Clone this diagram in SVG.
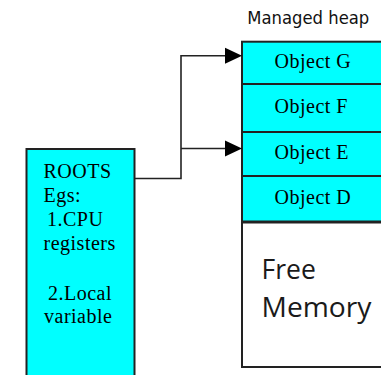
<svg xmlns="http://www.w3.org/2000/svg" width="381" height="375" viewBox="0 0 381 375">
<style>
.box{fill:#00ffff;stroke:#222;stroke-width:2}
.free{fill:#fff;stroke:#222;stroke-width:2}
.ser{font-family:"Liberation Serif","Times New Roman",serif;font-size:20px;letter-spacing:0.5px;fill:#000}
.conn{fill:none;stroke:#222;stroke-width:1.6}
.head{fill:#000}
</style>
<rect width="381" height="375" fill="#fff"/>
<text x="247.3" y="24" font-family="DejaVu Sans,Verdana,sans-serif" font-size="17" textLength="122" lengthAdjust="spacingAndGlyphs" fill="#111">Managed heap</text>
<g id="free-memory">
<rect class="free" x="242" y="222" width="150" height="145"/>
<text x="261.5" y="279" font-family="Open Sans,sans-serif" font-size="26.5" fill="#1a1a1a">Free</text>
<text x="261.5" y="316.7" font-family="Open Sans,sans-serif" font-size="26.5" textLength="110" lengthAdjust="spacingAndGlyphs" fill="#1a1a1a">Memory</text>
</g>
<g id="object-g">
<rect class="box" x="242" y="41.7" width="150" height="42.3"/>
<text class="ser" x="274.5" y="67.5">Object G</text>
</g>
<g id="object-f">
<rect class="box" x="242" y="84" width="150" height="48"/>
<text class="ser" x="274.5" y="113">Object F</text>
</g>
<g id="object-e">
<rect class="box" x="242" y="132" width="150" height="44"/>
<text class="ser" x="274.5" y="159">Object E</text>
</g>
<g id="object-d">
<rect class="box" x="242" y="176" width="150" height="46"/>
<text class="ser" x="274.5" y="204">Object D</text>
</g>
<line x1="242" y1="222" x2="381" y2="222" stroke="#222" stroke-width="3"/>
<g id="roots">
<rect class="box" x="26.5" y="149" width="108" height="240"/>
<text class="ser" x="43.5" y="178.3">ROOTS</text>
<text class="ser" x="43.5" y="202">Egs:</text>
<text class="ser" x="47" y="226">1.CPU</text>
<text class="ser" x="43.5" y="250">registers</text>
<text class="ser" x="48" y="300">2.Local</text>
<text class="ser" x="44" y="323.3">variable</text>
</g>
<g id="connectors">
<polyline class="conn" points="134.5,178.5 181,178.5 181,55.7 226,55.7"/>
<line class="conn" x1="181" y1="148.5" x2="226" y2="148.5"/>
<polygon class="head" points="225,47.7 242,55.7 225,63.7"/>
<polygon class="head" points="225,140.5 242,148.5 225,156.5"/>
</g>
</svg>
